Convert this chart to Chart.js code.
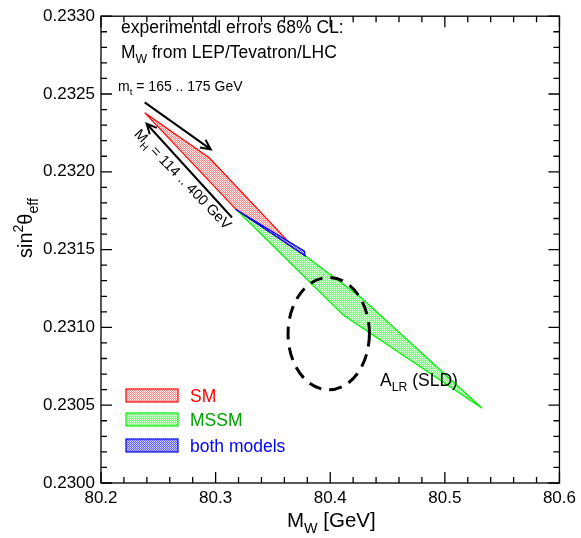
<!DOCTYPE html>
<html>
<head>
<meta charset="utf-8">
<script src="https://cdn.jsdelivr.net/npm/chart.js@4/dist/chart.umd.min.js"></script>
<style>
  body { margin: 0; background: #fff; }
  #plot { display: block; }
</style>
</head>
<body>
<canvas id="plot" width="581" height="538"></canvas>
<script>
// SM band (mt = 165..175, MH = 114..400)
const smX = [80.2381, 80.2944, 80.3662, 80.3781, 80.3175, 80.2381];
const smY = [0.23238, 0.23209, 0.23153, 0.23146, 0.23176, 0.23238];

// MSSM band
const mssmX = [80.3175, 80.3781, 80.4271, 80.5325, 80.4113, 80.3175];
const mssmY = [0.23176, 0.23146, 0.23119, 0.23048, 0.23108, 0.23176];

// overlap of both models
const bothX = [80.3175, 80.3781, 80.3775, 80.3175];
const bothY = [0.23176, 0.23146, 0.23149, 0.23176];

// A_LR (SLD) ellipse: centre and half axes
const alrCenter = [80.3987, 0.23096];
const alrRadius = [0.0355, 0.000361];

// arrows (tail, head)
const mtArrowX = [80.2381, 80.2958];
const mtArrowY = [0.232446, 0.232144];
const mhArrowX = [80.3143, 80.2398];
const mhArrowY = [0.231706, 0.232309];

// ticks
const xTicks = [80.2, 80.3, 80.4, 80.5, 80.6];
const yTicks = [0.2300, 0.2305, 0.2310, 0.2315, 0.2320, 0.2325, 0.2330];
const xMinorStep = 0.02;
const yMinorStep = 0.0001;

const FONT = '"Liberation Sans", Arial, Helvetica, sans-serif';

function toPoints(xs, ys) {
  return xs.map((x, i) => ({ x: x, y: ys[i] }));
}

// small dotted fill like the original hatch
function makePattern(c1, c2) {
  const c = document.createElement('canvas');
  c.width = 2; c.height = 2;
  const g = c.getContext('2d');
  g.fillStyle = c1; g.fillRect(0, 0, 2, 2);
  g.fillStyle = c2; g.fillRect(0, 0, 1, 1); g.fillRect(1, 1, 1, 1);
  return g.createPattern(c, 'repeat');
}

const ctx0 = document.getElementById('plot').getContext('2d');
const redFill = makePattern('rgb(255,238,238)', 'rgb(255,140,140)');
const greenFill = makePattern('rgb(228,255,228)', 'rgb(125,250,125)');
const blueFill = makePattern('rgb(210,210,255)', 'rgb(90,90,255)');

// text with sub/superscripts: parts = [[text, 0 normal | 1 sub | 2 sup]]
function drawRich(ctx, x, y, parts, size) {
  let cx = x;
  parts.forEach(([t, m]) => {
    const s = m ? size * 0.7 : size;
    const dy = m === 1 ? size * 0.28 : (m === 2 ? -size * 0.45 : 0);
    ctx.font = s + 'px ' + FONT;
    ctx.fillText(t, cx, y + dy);
    cx += ctx.measureText(t).width;
  });
  return cx - x;
}

function richWidth(ctx, parts, size) {
  let w = 0;
  parts.forEach(([t, m]) => {
    ctx.font = (m ? size * 0.7 : size) + 'px ' + FONT;
    w += ctx.measureText(t).width;
  });
  return w;
}

function arrow(ctx, x1, y1, x2, y2) {
  const a = Math.atan2(y2 - y1, x2 - x1);
  const L = 11, h = 0.45;
  ctx.beginPath();
  ctx.moveTo(x1, y1); ctx.lineTo(x2, y2);
  ctx.moveTo(x2 - L * Math.cos(a - h), y2 - L * Math.sin(a - h));
  ctx.lineTo(x2, y2);
  ctx.lineTo(x2 - L * Math.cos(a + h), y2 - L * Math.sin(a + h));
  ctx.stroke();
}

const decorations = {
  id: 'decorations',
  afterDatasetsDraw(chart) {
    const { ctx, chartArea: a, scales: { x, y } } = chart;
    ctx.save();

    // frame and inward ticks on all four sides
    ctx.strokeStyle = '#000';
    ctx.lineWidth = 1.3;
    ctx.strokeRect(a.left, a.top, a.right - a.left, a.bottom - a.top);
    ctx.beginPath();
    for (let v = 80.2; v <= 80.6001; v += xMinorStep) {
      const px = x.getPixelForValue(v);
      const major = xTicks.some(t => Math.abs(t - v) < 1e-6);
      const len = major ? 11 : 6;
      ctx.moveTo(px, a.bottom); ctx.lineTo(px, a.bottom - len);
      ctx.moveTo(px, a.top); ctx.lineTo(px, a.top + len);
    }
    for (let v = 0.2300; v <= 0.23300001; v += yMinorStep) {
      const py = y.getPixelForValue(v);
      const major = yTicks.some(t => Math.abs(t - v) < 1e-8);
      const len = major ? 11 : 6;
      ctx.moveTo(a.left, py); ctx.lineTo(a.left + len, py);
      ctx.moveTo(a.right, py); ctx.lineTo(a.right - len, py);
    }
    ctx.stroke();

    // A_LR ellipse
    ctx.beginPath();
    ctx.setLineDash([13, 8]);
    ctx.lineWidth = 3;
    const ex = x.getPixelForValue(alrCenter[0]);
    const ey = y.getPixelForValue(alrCenter[1]);
    const rx = x.getPixelForValue(alrCenter[0] + alrRadius[0]) - ex;
    const ry = ey - y.getPixelForValue(alrCenter[1] + alrRadius[1]);
    ctx.ellipse(ex, ey, rx, ry, 0, 0, Math.PI * 2);
    ctx.stroke();
    ctx.setLineDash([]);

    // arrows
    ctx.lineWidth = 2;
    arrow(ctx, x.getPixelForValue(mtArrowX[0]), y.getPixelForValue(mtArrowY[0]),
               x.getPixelForValue(mtArrowX[1]), y.getPixelForValue(mtArrowY[1]));
    arrow(ctx, x.getPixelForValue(mhArrowX[0]), y.getPixelForValue(mhArrowY[0]),
               x.getPixelForValue(mhArrowX[1]), y.getPixelForValue(mhArrowY[1]));

    // annotations
    ctx.fillStyle = '#000';
    ctx.textBaseline = 'alphabetic';
    ctx.textAlign = 'left';
    drawRich(ctx, 121, 33, [['experimental errors 68% CL:', 0]], 17.5);
    drawRich(ctx, 121, 58, [['M', 0], ['W', 1], [' from LEP/Tevatron/LHC', 0]], 17.5);
    drawRich(ctx, 118, 91, [['m', 0], ['t', 1], [' = 165 .. 175 GeV', 0]], 14);
    drawRich(ctx, 380, 386, [['A', 0], ['LR', 1], [' (SLD)', 0]], 17.5);

    const mhParts = [['M', 0], ['H', 1], [' = 114 .. 400 GeV', 0]];
    ctx.save();
    ctx.translate(183, 179);
    ctx.rotate(46 * Math.PI / 180);
    const mw = richWidth(ctx, mhParts, 14.5);
    drawRich(ctx, -mw / 2, 5, mhParts, 14.5);
    ctx.restore();

    // legend
    const items = [
      { ds: 0, text: '#ff0000', top: 389 },
      { ds: 1, text: '#00a000', top: 413 },
      { ds: 2, text: '#0000ff', top: 439 }
    ];
    items.forEach(it => {
      const d = chart.data.datasets[it.ds];
      ctx.fillStyle = d.backgroundColor;
      ctx.fillRect(126, it.top, 52, 13);
      ctx.strokeStyle = d.borderColor;
      ctx.lineWidth = 1.2;
      ctx.strokeRect(126, it.top, 52, 13);
      ctx.fillStyle = it.text;
      ctx.font = '17.5px ' + FONT;
      ctx.fillText(d.label, 190, it.top + 12.5);
    });

    // axis titles
    ctx.fillStyle = '#000';
    drawRich(ctx, 287, 527, [['M', 0], ['W', 1], [' [GeV]', 0]], 20.5);
    ctx.save();
    ctx.translate(32, 258);
    ctx.rotate(-Math.PI / 2);
    drawRich(ctx, 0, 0, [['sin', 0], ['2', 2], ['\u03b8', 0], ['eff', 1]], 20);
    ctx.restore();

    ctx.restore();
  }
};

new Chart(ctx0, {
  type: 'scatter',
  data: {
    datasets: [
      {
        label: 'SM',
        data: toPoints(smX, smY),
        borderColor: '#ff0000',
        backgroundColor: redFill,
        order: 1
      },
      {
        label: 'MSSM',
        data: toPoints(mssmX, mssmY),
        borderColor: '#00f000',
        backgroundColor: greenFill,
        order: 2
      },
      {
        label: 'both models',
        data: toPoints(bothX, bothY),
        borderColor: '#0000ff',
        backgroundColor: blueFill,
        order: 0
      }
    ].map(d => Object.assign(d, {
      showLine: true,
      fill: 'shape',
      borderWidth: 1.2,
      pointRadius: 0,
      tension: 0
    }))
  },
  options: {
    responsive: false,
    animation: false,
    layout: { padding: { top: 10, right: 18, left: 0, bottom: 0 } },
    plugins: {
      legend: { display: false },
      tooltip: { enabled: false }
    },
    scales: {
      x: {
        type: 'linear',
        min: 80.2,
        max: 80.6,
        afterBuildTicks: s => { s.ticks = xTicks.map(v => ({ value: v })); },
        afterFit: s => { s.height = 55; },
        grid: { display: false, drawTicks: false },
        border: { display: false },
        ticks: {
          padding: 5,
          color: '#000',
          font: { family: FONT, size: 17 },
          maxRotation: 0,
          callback: v => v.toFixed(1)
        }
      },
      y: {
        type: 'linear',
        min: 0.2300,
        max: 0.2330,
        afterBuildTicks: s => { s.ticks = yTicks.map(v => ({ value: v })); },
        afterFit: s => { s.width = 101; },
        grid: { display: false, drawTicks: false },
        border: { display: false },
        ticks: {
          padding: 6,
          color: '#000',
          font: { family: FONT, size: 17 },
          callback: v => v.toFixed(4)
        }
      }
    }
  },
  plugins: [decorations]
});
</script>
</body>
</html>
